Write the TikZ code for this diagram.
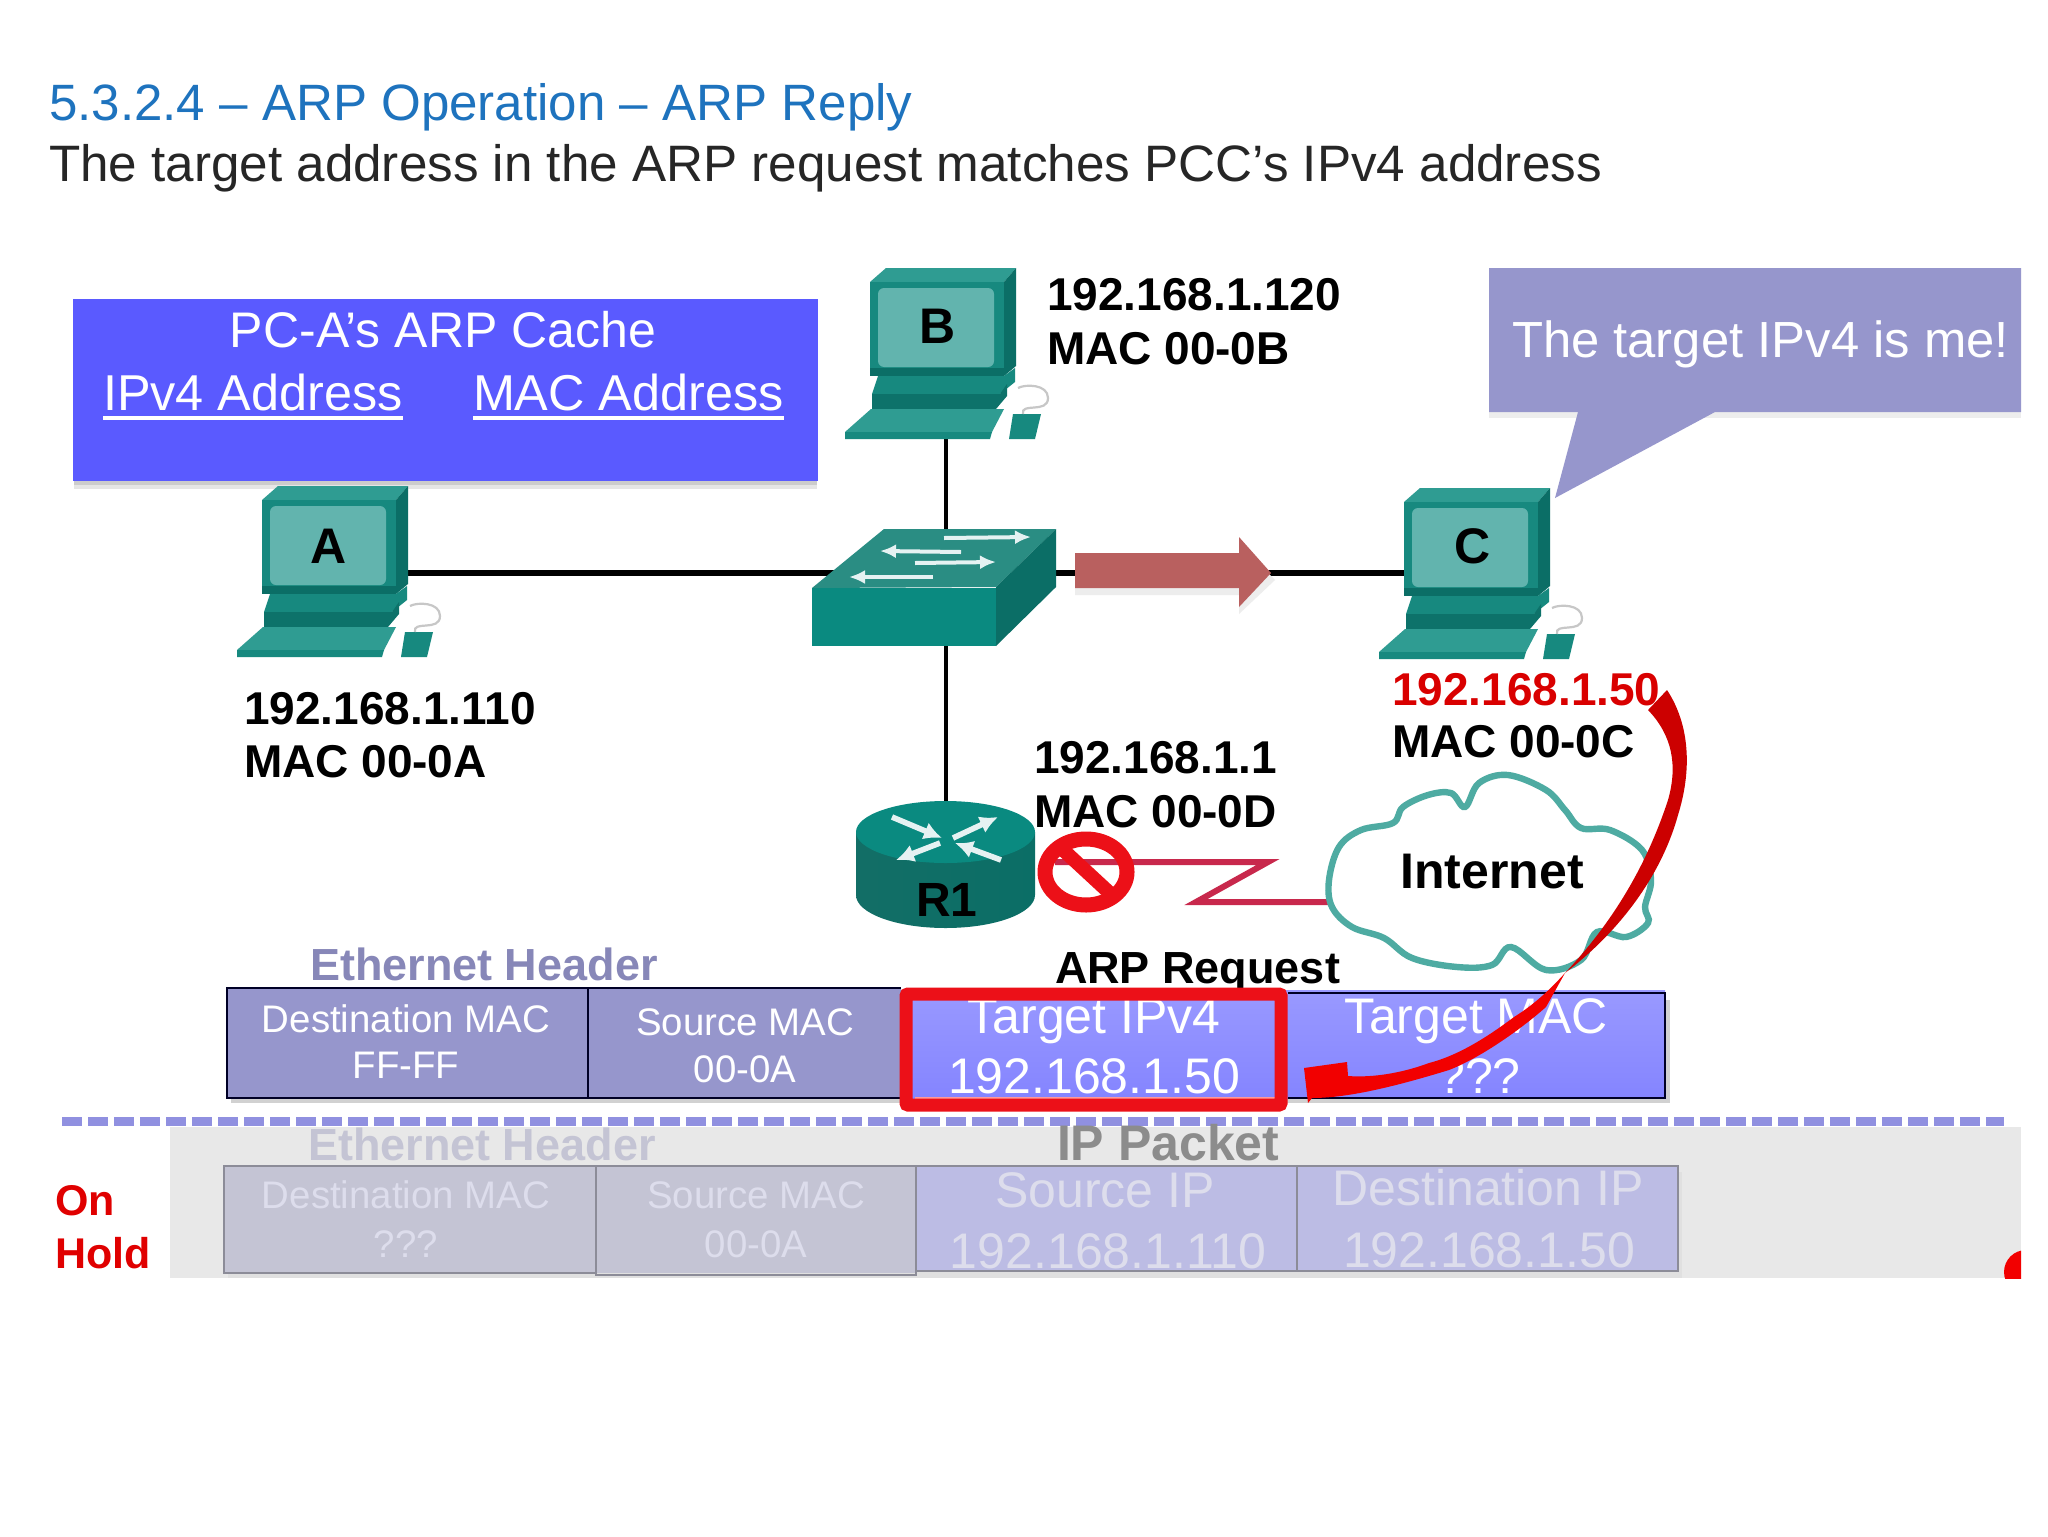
\documentclass[tikz,border=0pt]{standalone}
\usepackage{fontspec}
\setmainfont{Liberation Sans}
\usetikzlibrary{arrows.meta}
\definecolor{tealM}{HTML}{17897F}
\definecolor{tealD}{HTML}{0B6E66}
\definecolor{tealL}{HTML}{2F9C92}
\definecolor{tealS}{HTML}{62B4AE}
\definecolor{tealF}{HTML}{0A8A80}
\definecolor{cacheB}{HTML}{5A5AFF}
\definecolor{hdrB}{HTML}{9696CC}
\definecolor{titleB}{HTML}{1E73BE}
\definecolor{brick}{HTML}{B9605F}
\definecolor{zig}{HTML}{C8284C}
\definecolor{redB}{HTML}{EC1018}
\definecolor{holdG}{HTML}{C4C4D4}
\definecolor{holdB}{HTML}{BCBCE4}
\definecolor{holdT}{HTML}{DDDDEC}
\definecolor{holdL}{HTML}{8C8C98}
\definecolor{dashB}{HTML}{9090E0}
\newcommand{\fsz}[1]{\fontsize{#1pt}{#1pt}\selectfont}
\tikzset{
  lab/.style={inner sep=0pt,outer sep=0pt,anchor=base west,text=black},
  ctr/.style={inner sep=0pt,outer sep=0pt,anchor=base},
  blab/.style={lab,font=\fsz{23}\bfseries},
  boxfont/.style={ctr,text=white,font=\fsz{19.2}},
  bigfont/.style={ctr,text=white,font=\fsz{25}},
  holdsm/.style={ctr,text=holdT,font=\fsz{19.2}},
  holdbig/.style={ctr,text=holdT,font=\fsz{25}},
  linkh/.style={draw=black,line width=3.4pt},
  linkv/.style={draw=black,line width=2.4pt},
  swarrow/.style={draw=white!90!teal,line width=2pt,-{Latex[length=8pt,width=7pt]}},
  rarrow/.style={draw=white!90!teal,line width=2.8pt,{Latex[length=9pt,width=9pt]}-},
  pc/.pic={
    \fill[tealL] (0,14) -- (16,0) -- (146,0) -- (134,14) -- cycle;
    \fill[tealM] (0,14) rectangle (134,108);
    \fill[tealD] (134,14) -- (146,0) -- (146,98) -- (134,108) -- cycle;
    \fill[tealS,rounded corners=3pt] (8,20) rectangle (124,99);
    \fill[tealD] (0,100) rectangle (134,108);
    \fill[tealM] (8,108) -- (134,108) -- (145,100) -- (145,114) -- (130,126) -- (2,126) -- cycle;
    \fill[tealD!85!tealM] (2,126) -- (130,126) -- (137,116) -- (137,128) -- (126,141) -- (2,141) -- cycle;
    \fill[tealL] (1,141) -- (134,141) -- (122,164) -- (-25,164) -- cycle;
    \fill[tealM] (-25,164) -- (122,164) -- (120,171) -- (-25,171) -- cycle;
    \fill[tealM] (143,146) -- (171,146) -- (165,171) -- (139,171) -- cycle;
    \draw[black!22,line width=1.1pt] (153,146) .. controls (150,134) and (178,146) .. (178,130) .. controls (178,116) and (155,116) .. (148,120);
  }
}
\begin{document}
\begin{tikzpicture}[x=0.5pt,y=-0.5pt]
\path[use as bounding box,fill=white] (0,0) rectangle (2048,1536);
% titles
\node[lab,text=titleB,font=\fsz{25.55}] (title) at (49,120) {5.3.2.4 – ARP Operation – ARP Reply};
\node[lab,text=black!85,font=\fsz{25.6}] (sub) at (49,181) {The target address in the ARP request matches PCC’s IPv4 address};
% ARP cache box
\fill[black!10] (74,306) rectangle (817,489);
\fill[black!20] (74,306) rectangle (817,485);
\fill[cacheB] (73,299) rectangle (818,481);
\node[ctr,text=white,font=\fsz{25}] (cache) at (443,347) {PC-A’s ARP Cache};
\node[lab,text=white,font=\fsz{25.2}] (ipv4h) at (103,410) {IPv4 Address};
\node[lab,text=white,font=\fsz{25.2}] (mach) at (473,410) {MAC Address};
\draw[white,line width=1.8pt] ([yshift=-4pt]ipv4h.base west) -- ([yshift=-4pt]ipv4h.base east);
\draw[white,line width=1.8pt] ([yshift=-4pt]mach.base west) -- ([yshift=-4pt]mach.base east);
% anchor coordinates
\coordinate (aE) at (408,573);
\coordinate (swW) at (840,573);
\coordinate (swE) at (1040,573);
\coordinate (cW) at (1404,573);
\coordinate (bS) at (946,437);
\coordinate (swN) at (946,532);
\coordinate (swS) at (946,645);
\coordinate (rN) at (946,805);
% links
\draw[linkh] (aE) -- (swW);
\draw[linkh] (swE) -- (cW);
\draw[linkv] (bS) -- (swN);
\draw[linkv] (swS) -- (rN);
% computers
\pic at (262,486) {pc};
\pic at (870,268) {pc};
\pic at (1404,488) {pc};
\node[ctr,font=\fsz{25}\bfseries] (pcA) at (329,563) {A};
\node[ctr,font=\fsz{25}\bfseries] (pcB) at (938,343) {B};
\node[ctr,font=\fsz{25}\bfseries] (pcC) at (1473,563) {C};
% switch
\fill[tealL!90!black] (884,529) -- (1056,529) -- (996,587) -- (812,588) -- cycle;
\fill[tealF] (812,588) rectangle (996,646);
\fill[tealD] (996,587) -- (1056,529) -- (1056,587) -- (996,646) -- cycle;
\coordinate (sa1) at (944,538); \coordinate (sa2) at (1031,537);
\coordinate (sa3) at (961,552); \coordinate (sa4) at (880,551);
\coordinate (sa5) at (915,563); \coordinate (sa6) at (996,562);
\coordinate (sa7) at (933,577); \coordinate (sa8) at (849,577);
\draw[swarrow] (sa1) -- (sa2);
\draw[swarrow] (sa3) -- (sa4);
\draw[swarrow] (sa5) -- (sa6);
\draw[swarrow] (sa7) -- (sa8);
% brick arrow
\fill[black!7] (1075,560) -- (1239,560) -- (1239,544) -- (1275,580) -- (1239,614) -- (1239,595) -- (1075,595) -- cycle;
\fill[brick] (1075,553) -- (1239,553) -- (1239,537) -- (1271,573) -- (1239,607) -- (1239,588) -- (1075,588) -- cycle;
% callout
\fill[black!7] (1489,400) rectangle (2021,418);
\fill[hdrB] (1489,268) -- (2021,268) -- (2021,412) -- (1715,412) -- (1555,498) -- (1578,412) -- (1489,412) -- cycle;
\node[lab,text=white,font=\fsz{25.4}] (me) at (1512,357) {The target IPv4 is me!};
% labels
\node[blab] (ipB) at (1047,310) {192.168.1.120};
\node[blab] (macB) at (1047,364) {MAC 00-0B};
\node[blab] (ipA) at (244,724) {192.168.1.110};
\node[blab] (macA) at (244,777) {MAC 00-0A};
\node[blab,text=red!85!black] (ipC) at (1392,705) {192.168.1.50};
\node[blab] (macC) at (1392,757) {MAC 00-0C};
\node[blab] (ipR) at (1034,773) {192.168.1.1};
\node[blab] (macR) at (1034,827) {MAC 00-0D};
% router
\shade[left color=tealM!80!black,middle color=tealL,right color=tealD] (856,832) -- (856,895) arc[start angle=180,end angle=0,x radius=89.5,y radius=33] -- (1035,832) -- cycle;
\fill[tealF] (945.5,832) ellipse[x radius=89.5,y radius=31];
\coordinate (rc1) at (892,817); \coordinate (rc2) at (998,817); \coordinate (rc3) at (896,860); \coordinate (rc4) at (1001,860);
\coordinate (ri1) at (942,838); \coordinate (ri2) at (953,838); \coordinate (ri3) at (940,843); \coordinate (ri4) at (955,843);
\draw[rarrow] (ri1) -- (rc1);
\draw[rarrow] (rc2) -- (ri2);
\draw[rarrow] (rc3) -- (ri3);
\draw[rarrow] (ri4) -- (rc4);
\node[ctr,font=\fsz{24}\bfseries] (r1) at (947,916) {R1};
% cloud + serial link
\coordinate (zA) at (1055,862); \coordinate (zB) at (1268,862); \coordinate (zC) at (1196,902); \coordinate (zD) at (1329,902);
\draw[zig,line width=3pt,line join=miter] (zA) -- (zB) -- (zC) -- (zD);
\draw[draw=tealL!85!white,fill=white,line width=3.2pt] plot[smooth cycle,tension=0.6] coordinates {(1329,880) (1339,847) (1361,830) (1393,823) (1403,807) (1428,795) (1451,793) (1465,807) (1479,783) (1508,775) (1546,790) (1565,810) (1581,828) (1610,830) (1642,850) (1651,880) (1645,907) (1648,923) (1626,937) (1597,932) (1581,960) (1546,970) (1511,947) (1492,965) (1457,967) (1412,958) (1384,938) (1352,927) (1332,907)};
\node[inner sep=0pt,font=\fsz{25}\bfseries] (inet) at (1492,872) {Internet};
% prohibit sign
\draw[redB,line width=7.5pt] (1086,872) ellipse[x radius=41,y radius=33];
\coordinate (pa) at (1060,847); \coordinate (pb) at (1114,897);
\draw[redB,line width=7pt] (pa) -- (pb);
% upper table
\node[lab,text=hdrB!90!black,font=\fsz{22.5}\bfseries] (ethU) at (310,980) {Ethernet Header};
\node[lab,font=\fsz{22.5}\bfseries] (arpU) at (1055,983) {ARP Request};
\fill[black!18] (231,1000) rectangle (1670,1103);
\fill[hdrB] (227,988) rectangle (901,1098);
\shade[top color=blue!40!white,bottom color=blue!48!white] (901,990) rectangle (1665,1098);
\draw[black!85!blue,line width=1.4pt] (901,988) -- (227,988) -- (227,1098) -- (901,1098);
\draw[black!85!blue,line width=1.4pt] (588,988) -- (588,1098);
\draw[black!85!blue,line width=1.4pt] (1288,993) -- (1665,993) -- (1665,1098) -- (1288,1098);
\node[boxfont] (dm1) at (406,1032) {Destination MAC};
\node[boxfont] (dm2) at (406,1078) {FF-FF};
\node[boxfont] (sm1) at (745,1035) {Source MAC};
\node[boxfont] (sm2) at (745,1082) {00-0A};
\node[bigfont] (ti1) at (1094,1033) {Target IPv4};
\node[bigfont] (ti2) at (1094,1093) {192.168.1.50};
\node[bigfont] (tm1) at (1476,1033) {Target MAC};
\node[bigfont] (tm2) at (1479,1093) {???};
\draw[white!60!red,line width=1pt] (915,1098) -- (1275,1098);
\draw[redB,line width=6.5pt,rounded corners=1pt] (906,994) rectangle (1281,1105);
% dashed line and hold band
\fill[black!9] (170,1127) rectangle (2021,1278);
\draw[draw=dashB,line width=4.5pt,dash pattern=on 10pt off 3pt] (62,1121) -- (2004,1121);
\node[lab,text=holdG,font=\fsz{22.5}\bfseries] (ethL) at (308,1160) {Ethernet Header};
\node[lab,text=black!45,font=\fsz{25}\bfseries] (ipL) at (1057,1160) {IP Packet};
\fill[black!12] (228,1172) rectangle (1682,1278);
\fill[holdG] (224,1166) rectangle (916,1273);
\fill[holdB] (916,1166) rectangle (1678,1271);
\draw[holdL,line width=1.2pt] (224,1166) rectangle (596,1273);
\draw[holdL,line width=1.2pt] (596,1166) rectangle (916,1275);
\draw[holdL,line width=1.2pt] (916,1166) rectangle (1297,1271);
\draw[holdL,line width=1.2pt] (1297,1166) rectangle (1678,1271);
\node[holdsm] (hd1) at (406,1208) {Destination MAC};
\node[holdsm] (hd2) at (406,1257) {???};
\node[holdsm] (hs1) at (756,1208) {Source MAC};
\node[holdsm] (hs2) at (756,1257) {00-0A};
\node[holdbig] (hi1) at (1105,1207) {Source IP};
\node[holdbig] (hi2) at (1108,1268) {192.168.1.110};
\node[holdbig] (hj1) at (1488,1205) {Destination IP};
\node[holdbig] (hj2) at (1489,1267) {192.168.1.50};
\node[lab,text=red!88!black,font=\fsz{21.5}\bfseries] (on) at (55,1215) {On};
\node[lab,text=red!88!black,font=\fsz{21.5}\bfseries] (hold) at (55,1268) {Hold};
% red dot clipped
\begin{scope}
\clip (1990,1240) rectangle (2021,1278);
\fill[red!95!black] (2026,1272) circle[radius=22];
\end{scope}
% big red curved arrow
\fill[red!80!black] (1648,710) -- (1667,690) .. controls (1690,725) and (1692,770) .. (1678,815) .. controls (1660,880) and (1615,935) .. (1565,973) .. controls (1610,925) and (1645,870) .. (1668,800) .. controls (1678,765) and (1672,735) .. (1648,710) -- cycle;
\fill[red!95!black] (1565,973) .. controls (1545,995) and (1530,1007) .. (1514,1017) .. controls (1490,1035) and (1460,1055) .. (1429,1063) .. controls (1405,1072) and (1375,1078) .. (1348,1076) -- (1347,1062) -- (1304,1068) -- (1308,1103) -- (1312,1098) .. controls (1350,1098) and (1400,1085) .. (1449,1070) .. controls (1480,1058) and (1520,1030) .. (1546,1007) -- cycle;
\end{tikzpicture}
\end{document}
